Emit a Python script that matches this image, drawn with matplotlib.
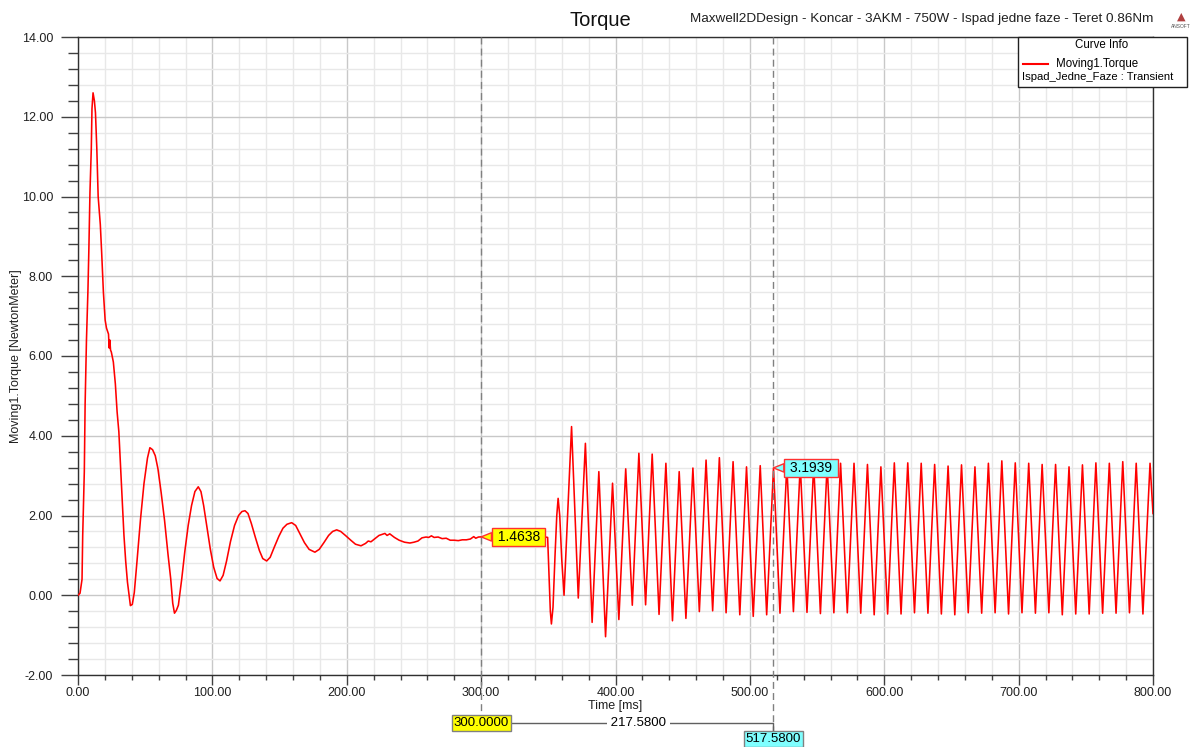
"""
Maxwell 2D transient torque plot - Koncar 3AKM 750W, loss of one phase.
"""
import numpy as np
import matplotlib
matplotlib.use("Agg")
import matplotlib.pyplot as plt
import matplotlib.transforms as mtransforms
from matplotlib.ticker import MultipleLocator, FormatStrFormatter
from matplotlib.patches import Rectangle
from matplotlib.lines import Line2D

# startup transient (time in ms, torque in Nm)
startup_t = [0.0, 1.5, 3.0, 3.5, 4.7, 5.3, 6.3, 7.4, 8.1, 8.9, 9.9, 10.4, 11.2, 12.2, 13.0,
             14.0, 15.0, 16.6, 17.6, 18.9, 20.2, 21.2, 22.7, 23.2, 23.7, 24.2, 24.8, 26.3,
             27.8, 29.1, 30.4, 31.7, 33.0, 34.2, 35.5, 36.8, 38.0, 39.0, 40.4, 41.9, 43.9,
             46.5, 49.1, 51.7, 53.5, 55.5, 57.5, 59.5, 61.9, 64.4, 67.0, 69.0, 70.5, 71.8,
             73.2, 74.7, 77.2, 79.5, 82.0, 84.5, 87.0, 89.5, 91.5, 93.5, 96.0, 98.5, 101.0,
             103.5, 105.7, 108.0, 110.5, 113.5, 116.5, 119.5, 122.0, 124.3, 126.5, 129.0,
             132.0, 135.0, 137.5, 140.4, 143.0, 146.0, 149.5, 152.5, 155.5, 159.0, 162.0,
             165.0, 168.5, 172.0, 176.3, 179.5, 183.0, 186.5, 189.5, 192.5, 195.5, 199.0,
             203.0, 206.5, 210.6, 214.0, 216.0, 218.0, 221.0, 224.0, 226.5, 228.4, 230.0,
             232.0, 235.5, 239.0, 243.0, 247.0, 250.0, 253.0, 256.0, 259.0, 261.0, 263.0,
             265.0, 268.0, 271.0, 274.0, 277.0, 280.0, 283.0, 286.0, 289.0, 292.0, 294.5,
             296.0, 298.0, 300.0]
startup_v = [0.0, 0.05, 0.4, 1.5, 3.1, 4.8, 6.4, 7.65, 8.7, 10.1, 11.2, 12.2, 12.6, 12.4, 12.1,
             11.2, 10.0, 9.3, 8.6, 7.6, 6.9, 6.7, 6.55, 6.2, 6.4, 6.15, 6.1, 5.85,
             5.3, 4.6, 4.1, 3.2, 2.3, 1.5, 0.85, 0.33, 0.0, -0.26, -0.23, 0.07, 0.85,
             1.9, 2.8, 3.44, 3.7, 3.65, 3.5, 3.17, 2.57, 1.88, 1.02, 0.41, -0.2, -0.45,
             -0.38, -0.25, 0.41, 1.1, 1.75, 2.25, 2.6, 2.72, 2.6, 2.25, 1.7, 1.15, 0.7,
             0.42, 0.36, 0.5, 0.85, 1.35, 1.75, 2.0, 2.1, 2.12, 2.05, 1.8,
             1.45, 1.12, 0.92, 0.86, 0.95, 1.2, 1.48, 1.68, 1.78, 1.82, 1.75,
             1.55, 1.32, 1.15, 1.08, 1.15, 1.32, 1.5, 1.6, 1.64, 1.6, 1.5,
             1.38, 1.28, 1.24, 1.3, 1.36, 1.34, 1.42, 1.5, 1.53, 1.55, 1.5,
             1.54, 1.45, 1.38, 1.33, 1.31, 1.33, 1.36, 1.44, 1.46, 1.45, 1.49,
             1.45, 1.46, 1.42, 1.43, 1.38, 1.38, 1.37, 1.39, 1.39, 1.41, 1.47,
             1.43, 1.46, 1.4638]

# phase loss at ~350 ms
loss_t = [305.0, 310.0, 316.0, 322.0, 328.0, 334.0, 340.0, 346.0, 349.5, 350.5, 351.5,
          352.3, 353.5, 355.0, 356.3, 357.3, 358.5, 360.0]
loss_v = [1.46, 1.48, 1.45, 1.47, 1.46, 1.48, 1.46, 1.47, 1.45, 0.5, -0.4,
          -0.72, -0.3, 1.0, 2.0, 2.43, 2.0, 0.9]

# pulsating torque, alternating trough / peak
pulse_t = [361.7, 367.3, 372.3, 377.6, 382.6, 387.6, 392.6, 397.8, 402.5, 407.6, 412.5,
           417.4, 422.4, 427.3, 432.4, 437.5, 442.4, 447.4, 452.4, 457.6, 462.4, 467.4,
           472.3, 477.3, 482.3, 487.5, 492.5, 497.5, 502.5, 507.7, 512.5, 517.58, 522.4,
           527.5, 532.4, 537.5, 542.5, 547.5, 552.5, 557.5,
           562.5, 567.5, 572.5, 577.5, 582.5, 587.5, 592.5, 597.5, 602.5, 607.5,
           612.5, 617.5, 622.5, 627.5, 632.5, 637.5, 642.5, 647.5, 652.5, 657.5,
           662.5, 667.5, 672.5, 677.5, 682.5, 687.5, 692.5, 697.5, 702.5, 707.5,
           712.5, 717.5, 722.5, 727.5, 732.5, 737.5, 742.5, 747.5, 752.5, 757.5,
           762.5, 767.5, 772.5, 777.5, 782.5, 787.5, 792.5, 797.8, 800.0]
pulse_v = [0.0, 4.23, -0.07, 3.81, -0.68, 3.10, -1.04, 2.81, -0.61, 3.17, -0.25,
           3.56, -0.24, 3.54, -0.48, 3.31, -0.64, 3.10, -0.58, 3.19, -0.41, 3.39,
           -0.39, 3.45, -0.44, 3.35, -0.49, 3.22, -0.53, 3.25, -0.49, 3.1939, -0.45,
           3.26, -0.41, 3.27, -0.43, 3.28, -0.46, 3.28,
           -0.44, 3.31, -0.44, 3.31, -0.45, 3.28, -0.49, 3.22, -0.47, 3.32,
           -0.47, 3.32, -0.44, 3.31, -0.45, 3.28, -0.47, 3.24, -0.49, 3.27,
           -0.44, 3.22, -0.45, 3.31, -0.44, 3.37, -0.47, 3.32, -0.44, 3.31,
           -0.45, 3.28, -0.44, 3.28, -0.49, 3.22, -0.47, 3.27, -0.47, 3.32,
           -0.45, 3.31, -0.45, 3.35, -0.44, 3.31, -0.47, 3.31, 2.05]

# cursor markers
marker_x = [300.0, 517.58]
marker_y = [1.4638, 3.1939]
marker_colors = ["#ffff00", "#7fffff"]

W, H = 1196, 747


def fx(px):
    return px / W


def fy(py):
    return 1 - py / H


plt.rcParams["font.family"] = ["Liberation Sans", "DejaVu Sans"]

time_ms = np.concatenate([startup_t, loss_t, pulse_t])
torque = np.concatenate([startup_v, loss_v, pulse_v])

fig = plt.figure(figsize=(W / 100, H / 100), dpi=100)
ax = fig.add_axes([fx(78), fy(675), fx(1153) - fx(78), fy(37) - fy(675)])

ax.plot(time_ms, torque, color="#ff0000", lw=1.15, zorder=3)

ax.set_xlim(0, 800)
ax.set_ylim(-2, 14)
ax.xaxis.set_major_locator(MultipleLocator(100))
ax.xaxis.set_minor_locator(MultipleLocator(20))
ax.yaxis.set_major_locator(MultipleLocator(2))
ax.yaxis.set_minor_locator(MultipleLocator(0.4))
ax.xaxis.set_major_formatter(FormatStrFormatter("%.2f"))
ax.yaxis.set_major_formatter(FormatStrFormatter("%.2f"))

ax.set_axisbelow(True)
ax.grid(which="major", color="#c8c8c8", lw=1.0)
ax.grid(which="minor", color="#e8e8e8", lw=1.0)

for s in ax.spines.values():
    s.set_color("#303030")
    s.set_linewidth(1.0)

ax.tick_params(axis="x", which="major", length=7.5, width=1, color="#404040",
               labelsize=9, labelcolor="#202020", pad=1.5)
ax.tick_params(axis="x", which="minor", length=3.6, width=1, color="#404040")
ax.tick_params(axis="y", which="major", length=12, width=1, color="#404040",
               labelsize=9, labelcolor="#202020", pad=6)
ax.tick_params(axis="y", which="minor", length=7, width=1, color="#404040")

ax.set_xlabel("Time [ms]", fontsize=9, color="#202020", labelpad=0)
ax.set_ylabel("Moving1.Torque [NewtonMeter]", fontsize=9, color="#202020")
ax.yaxis.set_label_coords(-0.052, 0.5)

# cursor lines and readouts
trans = mtransforms.blended_transform_factory(ax.transData, ax.transAxes)
low_ends = [-0.064, -0.089]
for xm, yb in zip(marker_x, low_ends):
    ax.plot([xm, xm], [1, yb], transform=trans, clip_on=False, color="#808080",
            lw=1, ls=(0, (5, 3)), zorder=4)

for xm, ym, c in zip(marker_x, marker_y, marker_colors):
    ax.annotate(f" {ym:.4f} ", xy=(xm, ym), xytext=(9, 0), textcoords="offset points",
                ha="left", va="center", fontsize=10, zorder=6,
                bbox=dict(boxstyle="square,pad=0.12", fc=c, ec="#ff3030", lw=1),
                arrowprops=dict(arrowstyle="wedge,tail_width=0.6,shrink_factor=0.5",
                                fc=c, ec="#ff3030", lw=1, shrinkA=0, shrinkB=0))

# delta readout under the axis
y_a, y_b = -0.0752, -0.101
ax.plot([marker_x[0], marker_x[1], marker_x[1]], [y_a, y_a, y_b + 0.012],
        transform=trans, clip_on=False, color="#606060", lw=1, zorder=4)
ax.text(marker_x[0], y_a, f"{marker_x[0]:.4f}", transform=trans, ha="center", va="center",
        fontsize=9.5, zorder=6,
        bbox=dict(boxstyle="square,pad=0.15", fc=marker_colors[0], ec="#808080", lw=1))
ax.text(marker_x[1], y_b, f"{marker_x[1]:.4f}", transform=trans, ha="center", va="center",
        fontsize=9.5, zorder=6,
        bbox=dict(boxstyle="square,pad=0.15", fc=marker_colors[1], ec="#808080", lw=1))
ax.text(417.0, y_a, f" {marker_x[1] - marker_x[0]:.4f} ", transform=trans, ha="center",
        va="center", fontsize=9.5, zorder=6,
        bbox=dict(boxstyle="square,pad=0.0", fc="white", ec="none"))

# titles
fig.text(fx(600), fy(20), "Torque", fontsize=14.5, ha="center", va="center", color="#101010")
fig.text(fx(690), fy(19), "Maxwell2DDesign - Koncar - 3AKM - 750W - Ispad jedne faze - Teret 0.86Nm",
         fontsize=9.7, ha="left", va="center", color="#202020")
fig.text(fx(1181), fy(17), "\u25b2", fontsize=8, ha="center", va="center", color="#b04040",
         family=["DejaVu Sans"])
fig.text(fx(1181), fy(26), "ANSOFT", fontsize=3.5, ha="center", va="center", color="#505050")

# curve info box
fig.add_artist(Rectangle((fx(1018), fy(87)), fx(1187) - fx(1018), fy(37) - fy(87),
                         transform=fig.transFigure, fc="white", ec="#202020", lw=1, zorder=5))
fig.text(fx(1102), fy(45), "Curve Info", fontsize=8.3, ha="center", va="center", zorder=6)
fig.add_artist(Line2D([fx(1023), fx(1048)], [fy(64), fy(64)], transform=fig.transFigure,
                      color="#ff0000", lw=1.5, zorder=6))
fig.text(fx(1056), fy(64), "Moving1.Torque", fontsize=8.3, ha="left", va="center", zorder=6)
fig.text(fx(1022), fy(77), "Ispad_Jedne_Faze : Transient", fontsize=8.1, ha="left", va="center",
         zorder=6)

fig.savefig("out.png", dpi=100)
